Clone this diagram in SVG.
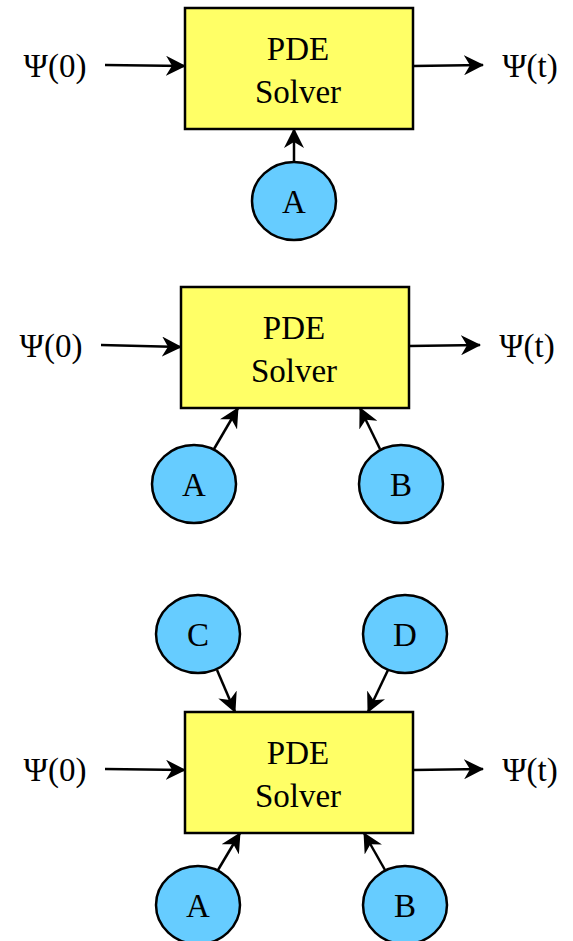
<svg xmlns="http://www.w3.org/2000/svg" width="573" height="941" viewBox="0 0 573 941">
  <defs>
    <marker id="arrow" viewBox="0 0 20 20" refX="19" refY="10" markerWidth="20" markerHeight="20" markerUnits="userSpaceOnUse" orient="auto">
      <path d="M0,0 L20,10 L0,20 L6,10 Z" fill="#000"/>
    </marker>
  </defs>
  <style>
    .box { fill: #ffff66; stroke: #000; stroke-width: 2.5; }
    .param { fill: #66ccff; stroke: #000; stroke-width: 2.5; }
    .lbl { font-family: "Liberation Serif", "Times New Roman", serif; font-size: 33px; fill: #000; text-anchor: middle; }
    .edge { stroke: #000; stroke-width: 2.5; fill: none; marker-end: url(#arrow); }
  </style>

  <!-- solver with one parameter -->
  <g id="solver1">
    <rect class="box" x="185" y="8" width="228" height="121"/>
    <text class="lbl" x="298" y="60">PDE</text>
    <text class="lbl" x="298" y="103">Solver</text>
  </g>
  <g id="in1"><text class="lbl" x="55" y="77">Ψ(0)</text></g>
  <g id="out1"><text class="lbl" x="530" y="77">Ψ(t)</text></g>
  <g id="a1">
    <ellipse class="param" cx="294" cy="201" rx="42" ry="39"/>
    <text class="lbl" x="294" y="213">A</text>
  </g>

  <!-- solver with two parameters -->
  <g id="solver2">
    <rect class="box" x="181" y="287" width="228" height="121"/>
    <text class="lbl" x="294" y="339">PDE</text>
    <text class="lbl" x="294" y="382">Solver</text>
  </g>
  <g id="in2"><text class="lbl" x="51" y="357">Ψ(0)</text></g>
  <g id="out2"><text class="lbl" x="527" y="357">Ψ(t)</text></g>
  <g id="a2">
    <ellipse class="param" cx="194" cy="484" rx="42" ry="39"/>
    <text class="lbl" x="194" y="496">A</text>
  </g>
  <g id="b2">
    <ellipse class="param" cx="401" cy="484" rx="42" ry="39"/>
    <text class="lbl" x="401" y="496">B</text>
  </g>

  <!-- solver with four parameters -->
  <g id="solver3">
    <rect class="box" x="185" y="712" width="228" height="121"/>
    <text class="lbl" x="298" y="764">PDE</text>
    <text class="lbl" x="298" y="807">Solver</text>
  </g>
  <g id="in3"><text class="lbl" x="55" y="781">Ψ(0)</text></g>
  <g id="out3"><text class="lbl" x="530" y="781">Ψ(t)</text></g>
  <g id="c3">
    <ellipse class="param" cx="198" cy="634" rx="42" ry="39"/>
    <text class="lbl" x="198" y="646">C</text>
  </g>
  <g id="d3">
    <ellipse class="param" cx="405" cy="634" rx="42" ry="39"/>
    <text class="lbl" x="405" y="646">D</text>
  </g>
  <g id="a3">
    <ellipse class="param" cx="198" cy="905" rx="42" ry="39"/>
    <text class="lbl" x="198" y="917">A</text>
  </g>
  <g id="b3">
    <ellipse class="param" cx="405" cy="905" rx="42" ry="39"/>
    <text class="lbl" x="405" y="917">B</text>
  </g>

  <g id="connectors">
    <line class="edge" x1="105" y1="65" x2="185" y2="66"/>
    <line class="edge" x1="413" y1="66" x2="483" y2="65"/>
    <line class="edge" x1="294" y1="162" x2="294" y2="129"/>

    <line class="edge" x1="101" y1="345" x2="181" y2="347"/>
    <line class="edge" x1="409" y1="346" x2="480" y2="345"/>
    <line class="edge" x1="214" y1="449" x2="238" y2="408"/>
    <line class="edge" x1="380" y1="449" x2="360" y2="408"/>

    <line class="edge" x1="105" y1="769" x2="185" y2="770"/>
    <line class="edge" x1="413" y1="770" x2="483" y2="769"/>
    <line class="edge" x1="217" y1="670" x2="235" y2="712"/>
    <line class="edge" x1="388" y1="670" x2="368" y2="712"/>
    <line class="edge" x1="218" y1="870" x2="240" y2="833"/>
    <line class="edge" x1="385" y1="870" x2="364" y2="833"/>
  </g>
</svg>
